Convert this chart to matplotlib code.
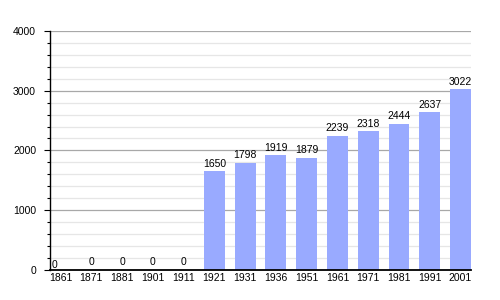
import matplotlib
matplotlib.use("Agg")
import matplotlib.pyplot as plt
from matplotlib.ticker import MultipleLocator

years = ["1861", "1871", "1881", "1901", "1911", "1921", "1931", "1936",
         "1951", "1961", "1971", "1981", "1991", "2001"]
population = [0, 0, 0, 0, 0, 1650, 1798, 1919, 1879, 2239, 2318, 2444, 2637, 3022]

plt.rcParams['font.family'] = ['Liberation Sans', 'DejaVu Sans']
fs = 7.5

fig = plt.figure(figsize=(5, 3), dpi=100)
ax = fig.add_axes([0.1, 0.1, 0.842, 0.797])

w = 0.68
x = list(range(len(years)))
ax.bar(x, population, width=w, align='edge', color='#99aaff', zorder=3)

ax.set_xlim(0, len(years) - 1 + w)
ax.set_ylim(0, 4000)
ax.yaxis.set_major_locator(MultipleLocator(1000))
ax.yaxis.set_minor_locator(MultipleLocator(200))
ax.grid(axis='y', which='major', color='#a8a8a8', linewidth=0.9, zorder=0)
ax.grid(axis='y', which='minor', color='#e6e6e6', linewidth=0.9, zorder=0)

ax.set_xticks([i + w / 2 for i in x])
ax.set_xticklabels(years)
ax.tick_params(axis='x', length=0, pad=2, labelsize=fs)
ax.tick_params(axis='y', which='major', length=4, width=0.8, labelsize=fs, pad=6)
ax.tick_params(axis='y', which='minor', length=2.5, width=0.8)

for s in ['top', 'right']:
    ax.spines[s].set_visible(False)
ax.spines['left'].set_linewidth(1.0)
ax.spines['bottom'].set_linewidth(1.3)
ax.spines['left'].set_zorder(4)
ax.spines['bottom'].set_zorder(4)

for i, v in enumerate(population):
    if i == 0:
        ax.text(i + 0.05, v, str(v), ha='left', va='bottom', fontsize=fs, zorder=5)
    else:
        ax.annotate(str(v), (i + w / 2, v), xytext=(0, 2), textcoords='offset points',
                    ha='center', va='bottom', fontsize=fs, zorder=5)

fig.savefig("out.png", dpi=100)
